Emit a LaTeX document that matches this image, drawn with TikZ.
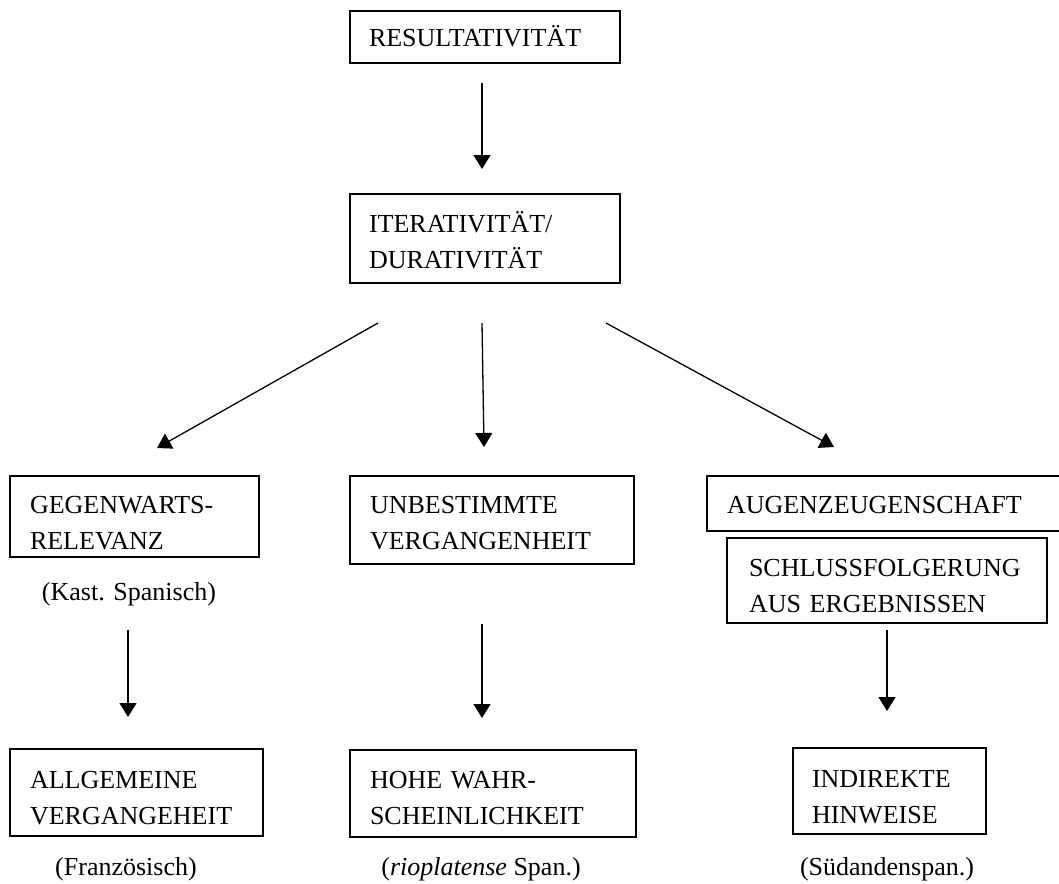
\documentclass[tikz,border=0pt]{standalone}
\usepackage{fontspec}
\setmainfont{Liberation Serif}
\usetikzlibrary{arrows.meta}
\begin{document}
\begin{tikzpicture}[x=1pt,y=-1pt,
  every node/.style={font=\fontsize{26}{36.5}\selectfont},
  box/.style={draw, line width=1.6pt, align=left, anchor=north west,
              inner ysep=0pt, outer sep=0pt},
  tag/.style={anchor=base, inner sep=0pt},
  arr/.style={line width=1.3pt, -{Triangle[width=17pt,length=14pt]}}]
\useasboundingbox (0,0) rectangle (1059,883);

% concept boxes: text width = box width - 2*padding
\node[box, inner xsep=19pt, text width=232pt, text height=36pt, text depth=16pt]
  (res) at (350,11) {RESULTATIVITÄT};
\node[box, inner xsep=19pt, text width=232pt, text height=38pt, text depth=51pt]
  (iter) at (350,194) {ITERATIVITÄT/\\DURATIVITÄT};
\node[box, inner xsep=20pt, text width=209pt, text height=37pt, text depth=44pt]
  (gegen) at (10,476) {GEGENWARTS-\\RELEVANZ};
\node[box, inner xsep=20pt, text width=244pt, text height=37pt, text depth=51pt]
  (unbest) at (350,476) {UNBESTIMMTE\\VERGANGENHEIT};
\node[box, inner xsep=20pt, text width=320pt, text height=37pt, text depth=18pt]
  (augen) at (707,476) {AUGENZEUGENSCHAFT};
\node[box, inner xsep=22pt, text width=276pt, text height=38pt, text depth=47pt]
  (schluss) at (727,538) {SCHLUSSFOLGERUNG\\AUS ERGEBNISSEN};
\node[box, inner xsep=20pt, text width=213pt, text height=39pt, text depth=48pt]
  (allg) at (10,749) {ALLGEMEINE\\VERGANGEHEIT};
\node[box, inner xsep=20pt, text width=246pt, text height=38pt, text depth=49pt]
  (hohe) at (350,750) {HOHE WAHR-\\SCHEINLICHKEIT};
\node[box, inner xsep=19pt, text width=155pt, text height=39pt, text depth=47pt]
  (indir) at (793,748) {INDIREKTE\\HINWEISE};

% variety labels
\node[tag] (kast)  at (129,600) {(Kast. Spanisch)};
\node[tag] (franz) at (126,875) {(Französisch)};
\node[tag] (rio)   at (481,875) {(\textit{rioplatense} Span.)};
\node[tag] (sued)  at (887,875) {(Südandenspan.)};

% arrow end points
\coordinate (a1s) at (482,83);   \coordinate (a1e) at (482,169);
\coordinate (a2s) at (378,323);  \coordinate (a2e) at (157,448);
\coordinate (a3s) at (482,323);  \coordinate (a3e) at (484,447);
\coordinate (a4s) at (606,323);  \coordinate (a4e) at (834,447);
\coordinate (a5s) at (128,630);  \coordinate (a5e) at (128,717);
\coordinate (a6s) at (482,624);  \coordinate (a6e) at (482,718);
\coordinate (a7s) at (887,630);  \coordinate (a7e) at (887,711);

\draw[arr] (a1s) -- (a1e);
\draw[arr] (a2s) -- (a2e);
\draw[arr] (a3s) -- (a3e);
\draw[arr] (a4s) -- (a4e);
\draw[arr] (a5s) -- (a5e);
\draw[arr] (a6s) -- (a6e);
\draw[arr] (a7s) -- (a7e);
\end{tikzpicture}
\end{document}
